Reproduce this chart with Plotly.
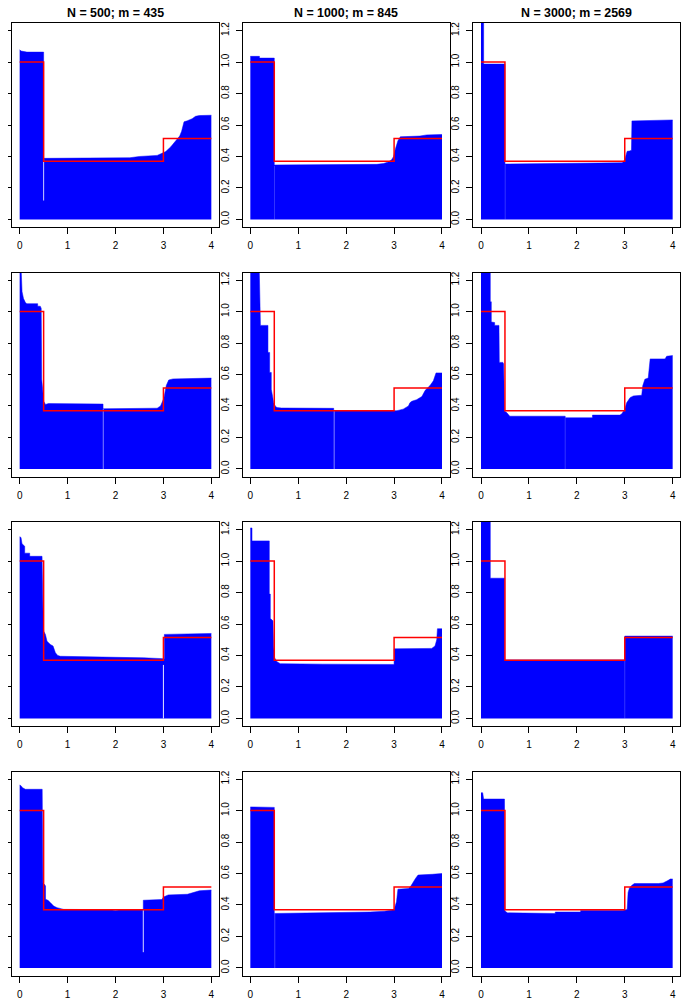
import plotly.graph_objects as go

# the page body keeps its default 8px margin, so the figure is sized to fit inside
PAGE_W, PAGE_H, OFF = 692, 998, 8
W, H = PAGE_W - OFF, PAGE_H - OFF

titles = ["N = 500; m = 435", "N = 1000; m = 845", "N = 3000; m = 2569"]

# true step function (red)
true_x = [0, 0.5, 3, 4]
true_y = [1.0, 0.37, 0.515, 0.515]

# estimates (blue), row by row
x_11 = [0, 0.03, 0.15, 0.5, 0.5, 1.5, 2.3, 2.5, 2.73, 2.87, 2.97, 3.05, 3.15, 3.25, 3.34, 3.38, 3.43, 3.5, 3.6, 3.67, 3.75, 4]
y_11 = [1.078, 1.07, 1.063, 1.063, 0.388, 0.388, 0.392, 0.4, 0.402, 0.407, 0.42, 0.432, 0.46, 0.5, 0.53, 0.56, 0.62, 0.627, 0.64, 0.655, 0.66, 0.662]

x_12 = [0, 0.19, 0.19, 0.5, 0.5, 2.5, 2.64, 2.78, 2.88, 2.95, 2.99, 3.03, 3.08, 3.13, 3.54, 3.68, 4]
y_12 = [1.036, 1.036, 1.025, 1.025, 0.346, 0.347, 0.35, 0.355, 0.365, 0.38, 0.40, 0.45, 0.50, 0.525, 0.53, 0.537, 0.54]

x_13 = [0, 0.055, 0.055, 0.5, 0.5, 2.8, 2.95, 3.0, 3.02, 3.05, 3.1, 3.14, 3.15, 4]
y_13 = [1.5, 1.5, 0.987, 0.987, 0.352, 0.355, 0.36, 0.38, 0.41, 0.433, 0.435, 0.44, 0.626, 0.632]

x_21 = [0, 0.03, 0.05, 0.08, 0.12, 0.15, 0.376, 0.376, 0.43, 0.45, 0.46, 0.48, 0.5, 0.54, 0.6, 1.74, 1.74, 2.87, 2.94, 3.01, 3.06, 3.11, 3.2, 4]
y_21 = [1.5, 1.2, 1.126, 1.083, 1.057, 1.05, 1.05, 1.034, 1.034, 1.02, 0.57, 0.506, 0.43, 0.41, 0.415, 0.412, 0.382, 0.386, 0.40, 0.45, 0.53, 0.565, 0.572, 0.577]

x_22 = [0, 0.17, 0.21, 0.21, 0.368, 0.368, 0.403, 0.403, 0.4375, 0.4375, 0.465, 0.486, 0.52, 0.555, 0.65, 1.74, 1.74, 3.06, 3.19, 3.3, 3.33, 3.37, 3.47, 3.58, 3.65, 3.75, 3.82, 3.875, 4]
y_22 = [1.5, 1.5, 0.923, 0.912, 0.912, 0.74, 0.74, 0.613, 0.613, 0.506, 0.46, 0.42, 0.40, 0.39, 0.387, 0.385, 0.37, 0.37, 0.38, 0.40, 0.42, 0.43, 0.44, 0.46, 0.50, 0.53, 0.56, 0.61, 0.61]

x_23 = [0, 0.194, 0.194, 0.215, 0.215, 0.285, 0.285, 0.375, 0.382, 0.458, 0.472, 0.493, 0.54, 0.6, 1.757, 1.757, 2.326, 2.326, 2.9, 2.94, 3.0, 3.04, 3.11, 3.18, 3.354, 3.375, 3.42, 3.49, 3.53, 3.84, 3.875, 4]
y_23 = [1.5, 1.5, 1.062, 1.062, 0.934, 0.93, 0.912, 0.912, 0.677, 0.677, 0.667, 0.3675, 0.357, 0.335, 0.335, 0.325, 0.325, 0.342, 0.342, 0.35, 0.38, 0.42, 0.453, 0.464, 0.468, 0.528, 0.57, 0.577, 0.699, 0.699, 0.716, 0.72]

x_31 = [0, 0.028, 0.049, 0.105, 0.105, 0.209, 0.209, 0.467, 0.49, 0.5, 0.537, 0.571, 0.641, 0.697, 0.746, 0.794, 0.85, 1.5, 2.59, 2.99, 3.02, 3.02, 4]
y_31 = [1.154, 1.15, 1.11, 1.094, 1.05, 1.05, 1.03, 1.03, 0.62, 0.555, 0.534, 0.49, 0.47, 0.46, 0.417, 0.40, 0.395, 0.392, 0.385, 0.38, 0.38, 0.534, 0.54]

x_32 = [0, 0.035, 0.035, 0.396, 0.396, 0.417, 0.417, 0.451, 0.472, 0.486, 0.507, 0.556, 0.625, 1.5, 3.0, 3.0, 3.5, 3.785, 3.854, 3.89, 3.905, 4]
y_32 = [1.21, 1.21, 1.128, 1.128, 0.79, 0.79, 0.635, 0.625, 0.62, 0.46, 0.385, 0.36, 0.348, 0.345, 0.343, 0.442, 0.442, 0.445, 0.46, 0.50, 0.57, 0.57]

x_33 = [0, 0.194, 0.194, 0.495, 0.495, 3.0, 3.0, 4]
y_33 = [1.5, 1.5, 0.891, 0.891, 0.372, 0.372, 0.523, 0.523]

x_41 = [0, 0.028, 0.06, 0.12, 0.47, 0.485, 0.52, 0.54, 0.54, 0.59, 0.64, 0.71, 0.78, 0.85, 0.92, 1.9, 2.0, 2.1, 2.58, 2.58, 2.97, 3.0, 3.05, 3.1, 3.5, 3.6, 3.75, 4]
y_41 = [1.162, 1.158, 1.145, 1.135, 1.135, 0.54, 0.53, 0.52, 0.436, 0.43, 0.415, 0.393, 0.383, 0.376, 0.372, 0.37, 0.365, 0.37, 0.37, 0.43, 0.435, 0.45, 0.455, 0.464, 0.468, 0.475, 0.49, 0.495]

x_42 = [0, 0.5, 0.5, 2.0, 2.5, 2.8, 2.95, 3.0, 3.05, 3.08, 3.3, 3.35, 3.45, 3.5, 3.8, 4]
y_42 = [1.023, 1.02, 0.346, 0.35, 0.355, 0.36, 0.365, 0.37, 0.42, 0.5, 0.505, 0.52, 0.57, 0.59, 0.595, 0.6]

x_43 = [0, 0.035, 0.055, 0.49, 0.5, 0.55, 1.55, 1.55, 2.08, 2.08, 2.95, 3.05, 3.07, 3.1, 3.15, 3.2, 3.7, 3.8, 3.9, 3.95, 4]
y_43 = [1.113, 1.113, 1.073, 1.073, 0.361, 0.35, 0.346, 0.355, 0.355, 0.365, 0.365, 0.372, 0.48, 0.51, 0.525, 0.536, 0.536, 0.54, 0.555, 0.565, 0.565]

panels = [(x_11, y_11), (x_12, y_12), (x_13, y_13),
          (x_21, y_21), (x_22, y_22), (x_23, y_23),
          (x_31, y_31), (x_32, y_32), (x_33, y_33),
          (x_41, y_41), (x_42, y_42), (x_43, y_43)]

# thin gaps in the blue area (one per panel, None = no gap)
gap_x = [0.5, 0.505, 0.505, 1.745, 1.75, 1.757, 3.0, None, 3.0, 2.58, 0.51, None]
gap_lo = [0.12, 0, 0, 0, 0, 0, 0, None, 0, 0.1, 0, None]
gap_hi = [0.385, 0.34, 0.35, 0.38, 0.37, 0.325, 0.34, None, 0.37, 0.37, 0.345, None]
gap_alpha = [0.8, 0.2, 0.2, 0.5, 0.5, 0.2, 0.9, None, 0.2, 0.85, 0.25, None]

x_ticks = [0, 1, 2, 3, 4]
y_ticks = [0, 0.2, 0.4, 0.6, 0.8, 1.0, 1.2]
y_tick_text = ["0.0", "0.2", "0.4", "0.6", "0.8", "1.0", "1.2"]

FONT = "Liberation Sans, Arial, sans-serif"
cell_w, cell_h = PAGE_W / 3, PAGE_H / 4
box_l, box_w, box_t, box_h = 12, 207, 23, 204

fig = go.Figure()
layout = {}
for i, (xs, ys) in enumerate(panels):
    r, c = divmod(i, 3)
    n = i + 1
    xa, ya = ("x%d" % n if n > 1 else "x"), ("y%d" % n if n > 1 else "y")
    left = box_l + c * cell_w - OFF
    top = box_t + r * cell_h - OFF
    dom_x = [left / W, (left + box_w) / W]
    dom_y = [1 - (top + box_h) / H, 1 - top / H]

    fig.add_trace(go.Scatter(x=xs, y=ys, mode="lines", fill="tozeroy",
                             fillcolor="#0000FF", line=dict(color="#0000FF", width=0.5),
                             xaxis=xa, yaxis=ya, hoverinfo="skip"))
    if gap_x[i] is not None:
        fig.add_trace(go.Scatter(x=[gap_x[i], gap_x[i]], y=[gap_lo[i], gap_hi[i]], mode="lines",
                                 line=dict(color="rgba(255,255,255,%s)" % gap_alpha[i], width=1),
                                 xaxis=xa, yaxis=ya, hoverinfo="skip"))
    fig.add_trace(go.Scatter(x=true_x, y=true_y, mode="lines", line_shape="hv",
                             line=dict(color="#FF0000", width=1.5),
                             xaxis=xa, yaxis=ya, hoverinfo="skip"))

    common = dict(showline=True, mirror=True, linecolor="black", linewidth=1,
                  ticks="outside", ticklen=6, tickwidth=1, tickcolor="black",
                  showgrid=False, zeroline=False, fixedrange=True, automargin=False,
                  tickfont=dict(family=FONT, size=10, color="black"))
    layout["xaxis%d" % n if n > 1 else "xaxis"] = dict(
        domain=dom_x, anchor=ya, range=[-0.16, 4.16], tickvals=x_ticks,
        ticklabelstandoff=3, **common)
    layout["yaxis%d" % n if n > 1 else "yaxis"] = dict(
        domain=dom_y, anchor=xa, range=[-0.048, 1.248], tickvals=y_ticks,
        ticktext=y_tick_text, tickangle=-90, ticklabelstandoff=3, **common)

annotations = []
for c, t in enumerate(titles):
    annotations.append(dict(text="<b>%s</b>" % t,
                            x=(box_l + c * cell_w + box_w / 2 - OFF) / W,
                            y=1 - (12.7 - OFF) / H, xref="paper", yref="paper", showarrow=False,
                            xanchor="center", yanchor="middle",
                            font=dict(family=FONT, size=12.4, color="black")))

fig.update_layout(template="none", width=W, height=H, margin=dict(l=0, r=0, t=0, b=0),
                  paper_bgcolor="white", plot_bgcolor="white", showlegend=False,
                  annotations=annotations, **layout)

fig.write_html("out.html")
